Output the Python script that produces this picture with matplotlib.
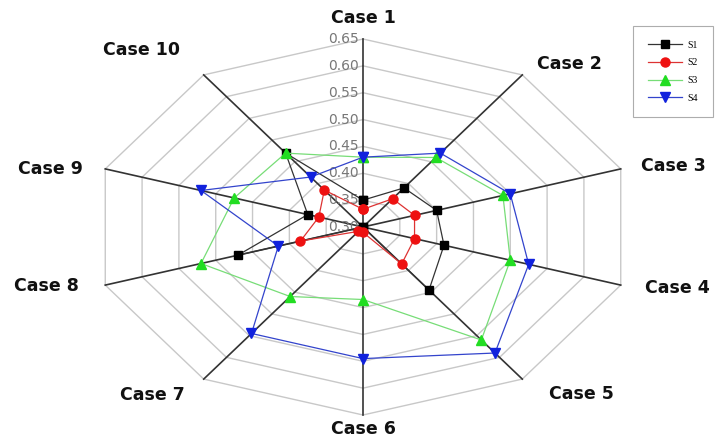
import numpy as np
import matplotlib
matplotlib.use("Agg")
import matplotlib.pyplot as plt

# ---- data ----
cases = ['Case 1', 'Case 2', 'Case 3', 'Case 4', 'Case 5',
         'Case 6', 'Case 7', 'Case 8', 'Case 9', 'Case 10']
s1 = [0.350, 0.390, 0.400, 0.410, 0.445, 0.300, 0.300, 0.470, 0.375, 0.470]
s2 = [0.333, 0.365, 0.370, 0.370, 0.385, 0.310, 0.310, 0.385, 0.360, 0.385]
s3 = [0.430, 0.460, 0.490, 0.500, 0.560, 0.435, 0.460, 0.520, 0.475, 0.470]
s4 = [0.430, 0.470, 0.500, 0.525, 0.590, 0.545, 0.545, 0.415, 0.520, 0.415]
series_names = ['S1', 'S2', 'S3', 'S4']
tick_values = [0.30, 0.35, 0.40, 0.45, 0.50, 0.55, 0.60, 0.65]

# ---- layout / style ----
W, H = 715, 440
CX, CY = 363, 227          # centre in pixels (from top-left)
RX, RY = 271, 188          # outer radius in pixels (x, y)
vmin, vmax = tick_values[0], tick_values[-1]
colors = ['#000000', '#ee1111', '#22dd22', '#1122dd']
line_colors = ['#333333', '#dd3333', '#77dd77', '#3344cc']
markers = ['s', 'o', '^', 'v']
msizes = [5.5, 6.5, 7, 7]
# label offsets in pixels (dx right, dy down) from each outer vertex
label_off = [(0, -21), (47, -11), (53, -3), (57, 3), (59, 15),
             (0, 14), (-51, 16), (-59, 1), (-55, 0), (-62, -25)]

fig = plt.figure(figsize=(W / 100, H / 100), dpi=100)
ax = fig.add_axes([0, 0, 1, 1])
ax.set_xlim(-CX / RX, (W - CX) / RX)
ax.set_ylim(-(H - CY) / RY, CY / RY)
ax.axis('off')

n = len(cases)
theta = np.deg2rad(90 - 360 / n * np.arange(n))
cos_t, sin_t = np.cos(theta), np.sin(theta)


def norm(v):
    return (np.asarray(v, dtype=float) - vmin) / (vmax - vmin)


def closed(a):
    a = np.asarray(a, dtype=float)
    return np.append(a, a[0])


# grid rings
for t in tick_values[1:]:
    r = norm(t)
    ax.plot(closed(r * cos_t), closed(r * sin_t), color='#c8c8c8', lw=1.0, zorder=1)

# spokes
for c, s in zip(cos_t, sin_t):
    ax.plot([0, c], [0, s], color='#333333', lw=1.2, zorder=2)

# radial tick labels
for t in tick_values:
    ax.annotate(f'{t:.2f}', xy=(0, float(norm(t))), xytext=(-4, 0),
                textcoords='offset pixels', ha='right', va='center',
                fontsize=10, color='#777777', family='DejaVu Sans', zorder=3)

# category labels
for i, name in enumerate(cases):
    dx, dy = label_off[i]
    ax.annotate(name, xy=(cos_t[i], sin_t[i]), xytext=(dx, -dy),
                textcoords='offset pixels', ha='center', va='center',
                fontsize=12.5, fontweight='bold', family='DejaVu Sans',
                color='#111111')

# series
handles = []
for vals, name, col, lc, mk, ms in zip([s1, s2, s3, s4], series_names,
                                        colors, line_colors, markers, msizes):
    r = norm(vals)
    h, = ax.plot(closed(r * cos_t), closed(r * sin_t), color=lc, lw=0.9,
                 marker=mk, markersize=ms, markerfacecolor=col,
                 markeredgecolor=col, label=name, zorder=4)
    handles.append(h)

leg = ax.legend(handles=handles, loc='upper left',
                bbox_to_anchor=(633 / W, 1 - 26 / H), bbox_transform=fig.transFigure,
                prop=dict(family='Liberation Serif', size=7), frameon=True,
                fancybox=False, edgecolor='#999999', handlelength=3.5,
                handletextpad=0.6, borderpad=1.5, labelspacing=0.9,
                borderaxespad=0)
leg.get_frame().set_linewidth(0.8)

fig.savefig('out.png', dpi=100, facecolor='white')
